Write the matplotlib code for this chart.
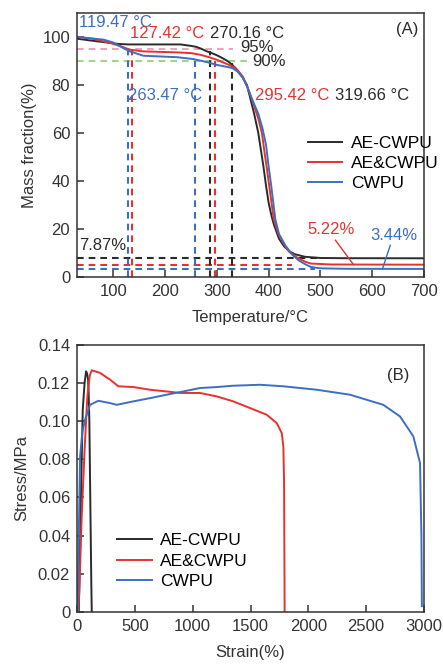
import numpy as np
import matplotlib
matplotlib.use("Agg")
import matplotlib.pyplot as plt

plt.rcParams['font.family'] = ['Liberation Sans', 'DejaVu Sans']
plt.rcParams['font.size'] = 12

# colours
c_black = '#2b2b2b'
c_red = '#e8312f'
c_blue = '#3c6fc2'
c_pink = '#eda6b8'
c_green = '#a4d48c'
c_axis = '#333333'

labels = ['AE-CWPU', 'AE&CWPU', 'CWPU']

# (A) TGA curves: temperature (°C) / mass fraction (%)
T_black = [30, 50, 80, 110, 130, 180, 230, 250, 260, 270, 280, 290, 300, 310, 320, 330,
           340, 350, 358, 365, 372, 380, 385, 390, 395, 400, 405, 410, 420, 430, 440,
           450, 470, 500, 550, 600, 700]
M_black = [99.2, 98.6, 97.8, 97.0, 96.8, 96.8, 96.8, 96.2, 95.8, 95.0, 94.0, 93.2, 92.3,
           91.2, 90.0, 88.3, 86.0, 83.0, 80.0, 74.0, 68.0, 60.0, 53.0, 46.0, 38.0, 31.0,
           26.0, 22.0, 16.0, 12.8, 10.8, 9.6, 8.5, 8.0, 7.9, 7.9, 7.87]

T_red = [30, 60, 94, 115, 132, 158, 223, 250, 268, 285, 300, 320, 335, 350, 360, 370,
         380, 387, 392, 397, 403, 410, 420, 429, 440, 455, 470, 481, 520, 600, 700]
M_red = [99.9, 99.2, 97.4, 96.0, 94.6, 93.9, 93.5, 93.2, 92.5, 91.5, 90.4, 88.6, 87.2,
         83.5, 78.5, 72.5, 66.0, 60.0, 52.0, 44.6, 35.0, 24.0, 17.5, 14.0, 10.5, 8.2,
         6.5, 5.7, 5.3, 5.25, 5.22]

T_blue = [30, 81, 100, 113, 132, 158, 223, 255, 280, 300, 330, 340, 350, 360, 370, 380,
          388, 395, 400, 405, 413, 420, 432, 445, 458, 470, 481, 500, 550, 700]
M_blue = [99.9, 98.8, 97.6, 96.0, 93.9, 92.1, 91.5, 90.7, 89.5, 88.3, 87.0, 85.5, 83.0,
          78.5, 73.0, 68.0, 62.0, 55.0, 46.0, 38.0, 24.0, 18.0, 13.3, 9.5, 7.0, 5.5,
          4.3, 3.7, 3.5, 3.44]

# marked onset temperatures (dashed verticals) and levels
v_T = [129, 135.5, 258, 287, 297, 329]
v_top = [95, 95, 90, 94, 90, 89]
v_col = [c_blue, c_red, c_blue, c_black, c_red, c_black]
residue = [7.87, 5.22, 3.44]
residue_end = [500, 445, 490]

# (B) stress-strain curves: strain (%) / stress (MPa)
S_black = [15, 30, 49, 65, 78, 86, 95, 100, 106, 112, 118, 123, 127]
P_black = [0.0, 0.05, 0.106, 0.120, 0.126, 0.125, 0.122, 0.115, 0.100, 0.070, 0.040, 0.015, 0.0]

S_red = [10, 20, 40, 65, 89, 110, 127, 199, 285, 357, 487, 631, 775, 890, 1063, 1208,
         1351, 1496, 1640, 1727, 1770, 1784, 1790, 1793, 1795]
P_red = [0.0, 0.012, 0.05, 0.085, 0.113, 0.124, 0.1266, 0.1252, 0.1217, 0.1182, 0.1178,
         0.1164, 0.1155, 0.1147, 0.1147, 0.1129, 0.1103, 0.1068, 0.1033, 0.0989, 0.0937,
         0.0867, 0.069, 0.03, 0.0]

S_blue = [5, 12, 20, 26, 45, 69, 112, 184, 285, 343, 487, 631, 775, 919, 1063, 1208,
          1351, 1582, 1784, 2072, 2360, 2648, 2793, 2908, 2966, 2978, 2982]
P_blue = [0.0, 0.03, 0.06, 0.0815, 0.094, 0.1007, 0.1085, 0.1106, 0.1094, 0.1085, 0.1103,
          0.112, 0.1138, 0.1155, 0.1173, 0.1178, 0.1185, 0.119, 0.1182, 0.1164, 0.1138,
          0.1085, 0.1024, 0.092, 0.078, 0.04, 0.003]


def style_axes(ax):
    for s in ax.spines.values():
        s.set_color(c_axis)
        s.set_linewidth(1.1)
    ax.tick_params(direction='in', length=5, width=1.1, color=c_axis,
                   labelcolor=c_axis, labelsize=12, top=False, right=False, pad=5)


fig = plt.figure(figsize=(4.43, 6.68), dpi=100)

# ---------------- (A) ----------------
axA = fig.add_axes([0.174, 0.585, 0.783, 0.396])
dash = (0, (3.2, 2.4))

axA.plot([30, 332], [95, 95], color=c_pink, lw=1.5, linestyle=dash)
axA.plot([30, 365], [90, 90], color=c_green, lw=1.5, linestyle=dash)
for r, e, c in zip(residue, residue_end, [c_black, c_red, c_blue]):
    axA.plot([30, e], [r, r], color=c, lw=1.5, linestyle=dash)
for x, t, c in zip(v_T, v_top, v_col):
    axA.plot([x, x], [0, t], color=c, lw=1.5, linestyle=dash)

axA.plot(T_black, M_black, color=c_black, lw=1.4, label=labels[0])
axA.plot(T_red, M_red, color=c_red, lw=1.4, label=labels[1])
axA.plot(T_blue, M_blue, color=c_blue, lw=1.4, label=labels[2])

axA.text(34, 105.8, '119.47 °C', color=c_blue, va='center', ha='left')
axA.text(132, 101.3, '127.42 °C', color=c_red, va='center', ha='left')
axA.text(287, 101.3, '270.16 °C', color=c_black, va='center', ha='left')
axA.text(345, 95.6, '95%', color=c_black, va='center', ha='left')
axA.text(368, 89.6, '90%', color=c_black, va='center', ha='left')
axA.text(128, 75.4, '263.47 °C', color=c_blue, va='center', ha='left')
axA.text(374, 75.4, '295.42 °C', color=c_red, va='center', ha='left')
axA.text(529, 75.4, '319.66 °C', color=c_black, va='center', ha='left')
axA.text(34, 13.3, '7.87%', color=c_black, va='center', ha='left')
axA.text(475, 20.0, '5.22%', color=c_red, va='center', ha='left')
axA.text(597, 17.5, '3.44%', color=c_blue, va='center', ha='left')
axA.plot([529, 564], [15.4, 5.2], color=c_red, lw=1.0)
axA.plot([635, 620], [13.3, 3.6], color=c_blue, lw=1.0)
axA.text(690, 103, '(A)', color=c_black, va='center', ha='right')

axA.set_xlim(30, 700)
axA.set_ylim(0, 110)
axA.set_xticks([100, 200, 300, 400, 500, 600, 700])
axA.set_yticks([0, 20, 40, 60, 80, 100])
axA.set_xlabel('Temperature/°C', color=c_axis, labelpad=8)
axA.set_ylabel('Mass fraction(%)', color=c_axis, labelpad=4)
style_axes(axA)
axA.legend(loc='center left', bbox_to_anchor=(0.62, 0.43), frameon=False,
           handlelength=2.0, handletextpad=0.5, labelspacing=0.3, fontsize=12.5)

# ---------------- (B) ----------------
axB = fig.add_axes([0.174, 0.084, 0.783, 0.4])
axB.plot(S_black, P_black, color=c_black, lw=1.4, label=labels[0])
axB.plot(S_red, P_red, color=c_red, lw=1.4, label=labels[1])
axB.plot(S_blue, P_blue, color=c_blue, lw=1.4, label=labels[2])
axB.text(0.957, 0.885, '(B)', transform=axB.transAxes, color=c_black, va='center', ha='right')

axB.set_xlim(0, 3000)
axB.set_ylim(0, 0.14)
axB.set_xticks(np.arange(0, 3001, 500))
yt = [0, 0.02, 0.04, 0.06, 0.08, 0.10, 0.12, 0.14]
axB.set_yticks(yt)
axB.set_yticklabels(['0'] + ['%.2f' % v for v in yt[1:]])
axB.set_xlabel('Strain(%)', color=c_axis, labelpad=8)
axB.set_ylabel('Stress/MPa', color=c_axis, labelpad=6)
style_axes(axB)
axB.legend(loc='center left', bbox_to_anchor=(0.07, 0.19), frameon=False,
           handlelength=2.0, handletextpad=0.5, labelspacing=0.3, fontsize=12.5)

fig.savefig('out.png', dpi=100)
